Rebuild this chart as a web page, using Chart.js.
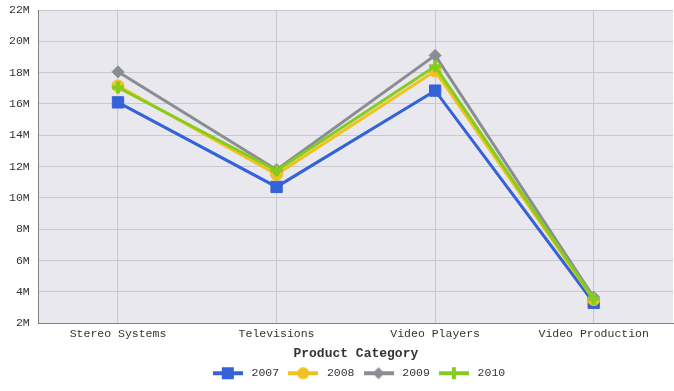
<!DOCTYPE html>
<html>
<head>
<meta charset="utf-8">
<script src="https://cdn.jsdelivr.net/npm/chart.js@4.4.1/dist/chart.umd.min.js"></script>
<style>
  html, body { margin: 0; padding: 0; background: #fff; }
  #wrap { width: 674px; height: 391px; }
</style>
</head>
<body>
<div id="wrap"><canvas id="lineChart"></canvas></div>
<script>
// chart data
const categories = ['Stereo Systems', 'Televisions', 'Video Players', 'Video Production'];
const years = ['2007', '2008', '2009', '2010'];
const sales2007 = [16.1e6, 10.7e6, 16.85e6, 3.3e6];
const sales2008 = [17.15e6, 11.5e6, 18.1e6, 3.5e6];
const sales2009 = [18.05e6, 11.8e6, 19.1e6, 3.65e6];
const sales2010 = [17.05e6, 11.75e6, 18.4e6, 3.55e6];

const colors = ['#3362d9', '#f0c21e', '#8a8d94', '#86cc1f'];
const styles = ['rect', 'circle', 'rectRot', 'cross'];
const FONT = '"Liberation Mono", "DejaVu Sans Mono", monospace';

// small canvas with line + marker for legend entries
function legendIcon(color, style) {
    const c = document.createElement('canvas');
    c.width = 30; c.height = 14;
    const ctx = c.getContext('2d');
    ctx.strokeStyle = color;
    ctx.fillStyle = color;
    ctx.lineWidth = 4;
    ctx.beginPath();
    ctx.moveTo(0, 7); ctx.lineTo(30, 7);
    ctx.stroke();
    if (style === 'rect') {
        ctx.fillRect(9, 1, 12, 12);
    } else if (style === 'circle') {
        ctx.beginPath(); ctx.arc(15, 7, 6, 0, Math.PI * 2); ctx.fill();
    } else if (style === 'rectRot') {
        ctx.beginPath();
        ctx.moveTo(15, 1); ctx.lineTo(21, 7); ctx.lineTo(15, 13); ctx.lineTo(9, 7);
        ctx.closePath(); ctx.fill();
    } else {
        ctx.fillRect(13, 1, 4, 12);
    }
    return c;
}

const plotBackground = {
    id: 'plotBackground',
    beforeDraw(chart) {
        const { ctx, chartArea: a } = chart;
        ctx.save();
        ctx.fillStyle = '#e9e8ee';
        ctx.fillRect(a.left, a.top, a.right - a.left, a.bottom - a.top);
        ctx.restore();
    }
};

// legend sits a bit right of the canvas centre in the original
const legendShift = {
    id: 'legendShift',
    afterLayout(chart) {
        if (chart.legend) {
            chart.legend.left += 21;
            chart.legend.right += 21;
        }
    }
};

const seriesValues = [sales2007, sales2008, sales2009, sales2010];

const datasets = years.map((y, i) => ({
    label: y,
    data: seriesValues[i],
    borderColor: colors[i],
    backgroundColor: colors[i],
    pointStyle: styles[i],
    pointRadius: styles[i] === 'rect' ? 8 : 6,
    pointBorderWidth: styles[i] === 'cross' ? 4 : 1,
    pointHoverRadius: styles[i] === 'rect' ? 8 : 6,
    borderWidth: 3,
    order: 3 - i,
    tension: 0
}));

const ctx = document.getElementById('lineChart').getContext('2d');
const chart = new Chart(ctx, {
    type: 'line',
    data: { labels: categories, datasets: datasets },
    plugins: [plotBackground, legendShift],
    options: {
        responsive: true,
        maintainAspectRatio: false,
        animation: false,
        layout: { autoPadding: false, padding: { left: 0, right: 1, top: 0, bottom: 2 } },
        scales: {
            x: {
                offset: true,
                grid: { offset: false, color: '#c9c8cf', drawTicks: false },
                border: { color: '#808080', width: 1 },
                ticks: { color: '#333', font: { family: FONT, size: 11.5 }, padding: 4 },
                title: {
                    display: true,
                    text: 'Product Category',
                    color: '#333',
                    font: { family: FONT, size: 13, weight: 'bold' },
                    padding: { top: 1, bottom: 0 }
                }
            },
            y: {
                min: 2e6,
                max: 22e6,
                grid: { color: '#c9c8cf', drawTicks: false },
                border: { color: '#808080', width: 1 },
                // tick padding would otherwise also set the plot top
                afterFit: (scale) => {
                    scale.paddingTop = 10;
                    scale.paddingBottom = 7;
                },
                ticks: {
                    stepSize: 2e6,
                    color: '#333',
                    padding: 9,
                    font: { family: FONT, size: 11.5 },
                    callback: v => (v / 1e6) + 'M'
                }
            }
        },
        plugins: {
            tooltip: { enabled: false },
            legend: {
                position: 'bottom',
                labels: {
                    usePointStyle: true,
                    pointStyleWidth: 36,
                    padding: 6,
                    color: '#333',
                    font: { family: FONT, size: 11.5 },
                    generateLabels: (ch) => ch.data.datasets.map((d, i) => ({
                        text: d.label,
                        pointStyle: legendIcon(colors[i], styles[i]),
                        fillStyle: colors[i],
                        strokeStyle: colors[i],
                        lineWidth: 0,
                        hidden: false,
                        datasetIndex: i,
                        fontColor: '#333'
                    }))
                }
            }
        }
    }
});
</script>
</body>
</html>
